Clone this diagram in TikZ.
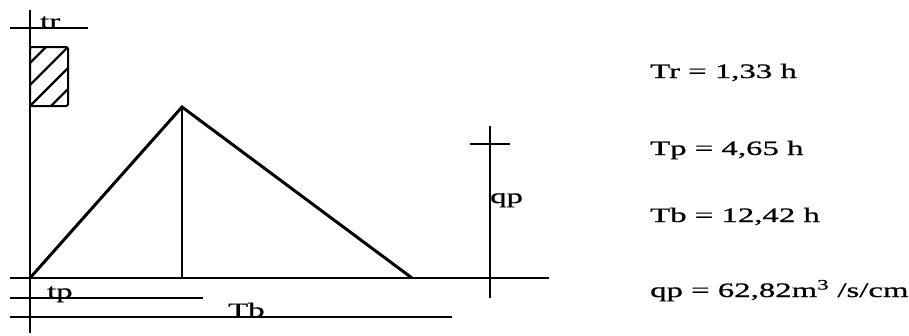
\documentclass[tikz,border=0pt]{standalone}
\usepackage{fontspec}
\setmainfont[FakeStretch=1.6, FakeBold=0.8]{Liberation Serif}
\usepackage{tikz}
\usetikzlibrary{calc}
\tikzset{
  axisline/.style={draw=black, line width=2pt},
  hydline/.style={draw=black, line width=3pt, line join=miter},
  lbl/.style={font=\fontsize{20.5}{24}\selectfont, inner sep=0pt, anchor=base west},
  rain/.style={draw=black, line width=2pt, rounded corners=2pt},
}
\begin{document}
\begin{tikzpicture}[x=1pt, y=-1pt]
\useasboundingbox (0,0) rectangle (909,335);

% --- Axes and reference lines ---
\coordinate (axtop) at (30,10);
\coordinate (axbot) at (30,333);
\draw[axisline] (axtop) -- (axbot);
\draw[axisline] (10,28) -- (88,28);
\draw[axisline] (10,278) -- (549,278);
\draw[axisline] (10,298) -- (203,298);
\draw[axisline] (10,317) -- (452,317);

% --- Rainfall block ---
\draw[rain] (30,47) rectangle (68,106);
\begin{scope}
  \clip (30,47) rectangle (68,106);
  \foreach \c in {16,38,59,80}
    \draw[line width=2.2pt] (30,47+\c) -- ++(\c,-\c);
\end{scope}
\node[lbl] (tr) at (40,28) {tr};

% --- Unit hydrograph ---
\coordinate (start) at (30,278);
\coordinate (peak) at (182,107);
\coordinate (foot) at (182,278);
\coordinate (end) at (412,278);
\draw[hydline] (start) -- (peak) -- (end);
\draw[axisline] (peak) -- (foot);
\node[lbl] (tp) at (47,298) {tp};
\node[lbl] (Tb) at (228,317) {Tb};

% --- Peak discharge scale ---
\coordinate (qtop) at (490,126);
\coordinate (qbot) at (490,298);
\draw[axisline] (qtop) -- (qbot);
\draw[axisline] (470,144) -- (510,144);
\node[lbl] (qp) at (490,203) {qp};

% --- Results ---
\node[lbl] (Trval) at (650,78) {Tr = 1,33 h};
\node[lbl] (Tpval) at (650,155) {Tp = 4,65 h};
\node[lbl] (Tbval) at (650,222) {Tb = 12,42 h};
\node[lbl] (qpval) at (650,297) {qp = 62,82m\textsuperscript{3} /s/cm};

\end{tikzpicture}
\end{document}
